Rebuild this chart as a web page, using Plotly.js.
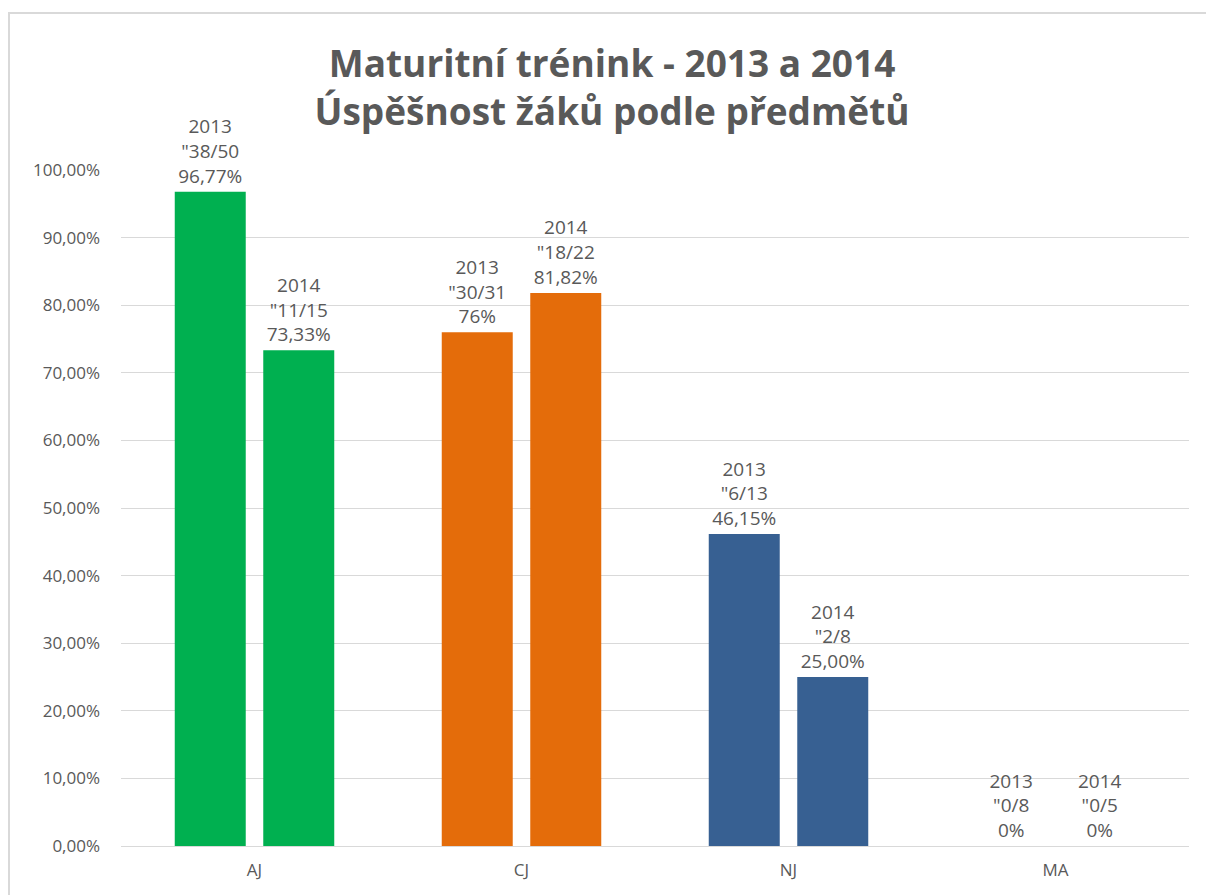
<!DOCTYPE html>
<html>
<head>
<meta charset="utf-8">
<script src="https://cdn.plot.ly/plotly-3.0.1.min.js"></script>
<style>
  html, body { margin: 0; padding: 0; background: #fff; }
  #chart { width: 1206px; height: 895px; position: absolute; left: 0; top: 0; }
  #frame { position: absolute; left: 8px; top: 12px; width: 1300px; height: 1000px;
           border: 2px solid #d9d9d9; pointer-events: none; box-sizing: border-box; }
</style>
</head>
<body>
<div id="chart"></div>
<div id="frame"></div>
<script>
const categories = ["AJ", "CJ", "NJ", "MA"];
const years = ["2013", "2014"];
const values2013 = [0.9677, 0.76, 0.4615, 0];
const values2014 = [0.7333, 0.8182, 0.25, 0];
const counts2013 = ["38/50", "30/31", "6/13", "0/8"];
const counts2014 = ["11/15", "18/22", "2/8", "0/5"];
const pct2013 = ["96,77%", "76%", "46,15%", "0%"];
const pct2014 = ["73,33%", "81,82%", "25,00%", "0%"];
const categoryColors = ["#00B050", "#E46C0A", "#376092", "#7F7F7F"];

function labels(year, counts, pcts) {
  return counts.map((c, i) => year + "<br>\"" + c + "<br>" + pcts[i]);
}

const textFont = { family: "Open Sans, sans-serif", size: 19, color: "#595959" };

const traces = [
  { name: years[0], x: categories, y: values2013, text: labels(years[0], counts2013, pct2013) },
  { name: years[1], x: categories, y: values2014, text: labels(years[1], counts2014, pct2014) }
].map(t => Object.assign(t, {
  type: "bar",
  marker: { color: categoryColors },
  textposition: "outside",
  textfont: textFont,
  cliponaxis: false,
  hoverinfo: "none"
}));

const layout = {
  width: 1206, height: 895,
  margin: { l: 121, r: 17, t: 170, b: 49 },
  paper_bgcolor: "rgba(0,0,0,0)",
  plot_bgcolor: "rgba(0,0,0,0)",
  separators: ",.",
  showlegend: false,
  barmode: "group",
  bargap: 0.337,
  bargroupgap: 0.198,
  title: {
    text: "<b>Maturitní trénink - 2013 a 2014<br>Úspěšnost žáků podle předmětů</b>",
    x: 0.5075, xref: "container", xanchor: "center",
    y: 0.914, yref: "container", yanchor: "middle",
    font: { family: "Open Sans, sans-serif", size: 37, color: "#595959" }
  },
  xaxis: {
    type: "category",
    tickfont: { family: "Open Sans, sans-serif", size: 17, color: "#595959" },
    showline: false, ticks: "", showgrid: false,
    ticklabelstandoff: 12
  },
  yaxis: {
    range: [0, 1],
    dtick: 0.1,
    tickformat: ".2%",
    tickfont: { family: "Open Sans, sans-serif", size: 17, color: "#595959" },
    gridcolor: "#d9d9d9", gridwidth: 1,
    zeroline: true, zerolinecolor: "#d9d9d9", zerolinewidth: 1,
    showline: false, ticks: "", ticklen: 0,
    ticklabelstandoff: 20,
    automargin: false
  },
  font: { family: "Open Sans, sans-serif", color: "#595959" }
};

Plotly.newPlot("chart", traces, layout, { displayModeBar: false, staticPlot: true });
</script>
</body>
</html>
